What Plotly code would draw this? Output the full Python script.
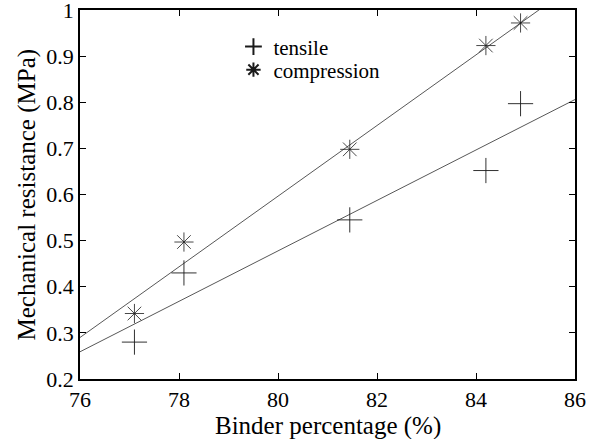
import plotly.graph_objects as go

# Data
binder_pct = [77.1, 78.1, 81.45, 84.2, 84.9]
tensile = [0.28, 0.43, 0.545, 0.652, 0.797]
compression = [0.342, 0.497, 0.698, 0.923, 0.972]

# Regression lines (endpoints)
fit_x = [76, 86]
tensile_fit = [0.259, 0.806]
compression_fit = [0.290, 1.056]

x_ticks = [76, 78, 80, 82, 84, 86]
y_ticks = [0.2, 0.3, 0.4, 0.5, 0.6, 0.7, 0.8, 0.9, 1.0]
y_ticktext = ["0.2", "0.3", "0.4", "0.5", "0.6", "0.7", "0.8", "0.9", "1"]

x_title = "Binder percentage (%)"
y_title = "Mechanical resistance (MPa)"

FONT = "Liberation Serif"
INK = "#1a1a1a"

fig = go.Figure()
fig.add_trace(go.Scatter(x=fit_x, y=tensile_fit, mode="lines",
                         line=dict(color="#444444", width=0.9), showlegend=False, hoverinfo="skip"))
fig.add_trace(go.Scatter(x=fit_x, y=compression_fit, mode="lines",
                         line=dict(color="#444444", width=0.9), showlegend=False, hoverinfo="skip"))
fig.add_trace(go.Scatter(x=binder_pct, y=tensile, mode="markers", name="tensile", legend="legend",
                         marker=dict(symbol="cross-thin", size=18, color=INK,
                                     line=dict(color=INK, width=0.9))))
fig.add_trace(go.Scatter(x=binder_pct, y=compression, mode="markers", name="compression", legend="legend2",
                         marker=dict(symbol="asterisk", size=16, color=INK,
                                     line=dict(color=INK, width=0.8))))

axis_common = dict(showgrid=False, zeroline=False, showline=True, linecolor="black",
                   linewidth=1.5, mirror="ticks", ticks="inside", ticklen=6,
                   tickcolor="black", tickwidth=1, automargin=False,
                   ticklabeloverflow="allow",
                   tickfont=dict(family=FONT, size=22, color="black"))

fig.update_xaxes(range=[76, 86.0001], tickvals=x_ticks, ticklabelstandoff=0, **axis_common)
fig.update_yaxes(range=[0.2, 1.0001], tickvals=y_ticks, ticktext=y_ticktext, **axis_common)

fig.add_annotation(text=x_title, xref="paper", yref="paper", x=0.5, y=-0.128,
                   xanchor="center", yanchor="middle", showarrow=False,
                   font=dict(family=FONT, size=25, color="black"))
fig.add_annotation(text=y_title, xref="paper", yref="paper", x=-0.1071, y=0.5,
                   xanchor="center", yanchor="middle", textangle=-90, showarrow=False,
                   font=dict(family=FONT, size=25, color="black"))

leg_common = dict(x=0.31, xanchor="left", yanchor="middle", bgcolor="rgba(0,0,0,0)",
                  font=dict(family=FONT, size=21, color="black"), itemsizing="constant")
fig.update_layout(
    width=598, height=439,
    margin=dict(l=80, r=23, t=10, b=60),
    paper_bgcolor="white", plot_bgcolor="white",
    font=dict(family=FONT),
    showlegend=True,
    legend=dict(y=0.9, **leg_common),
    legend2=dict(y=0.8374, **leg_common),
)

fig.write_html("out.html")
